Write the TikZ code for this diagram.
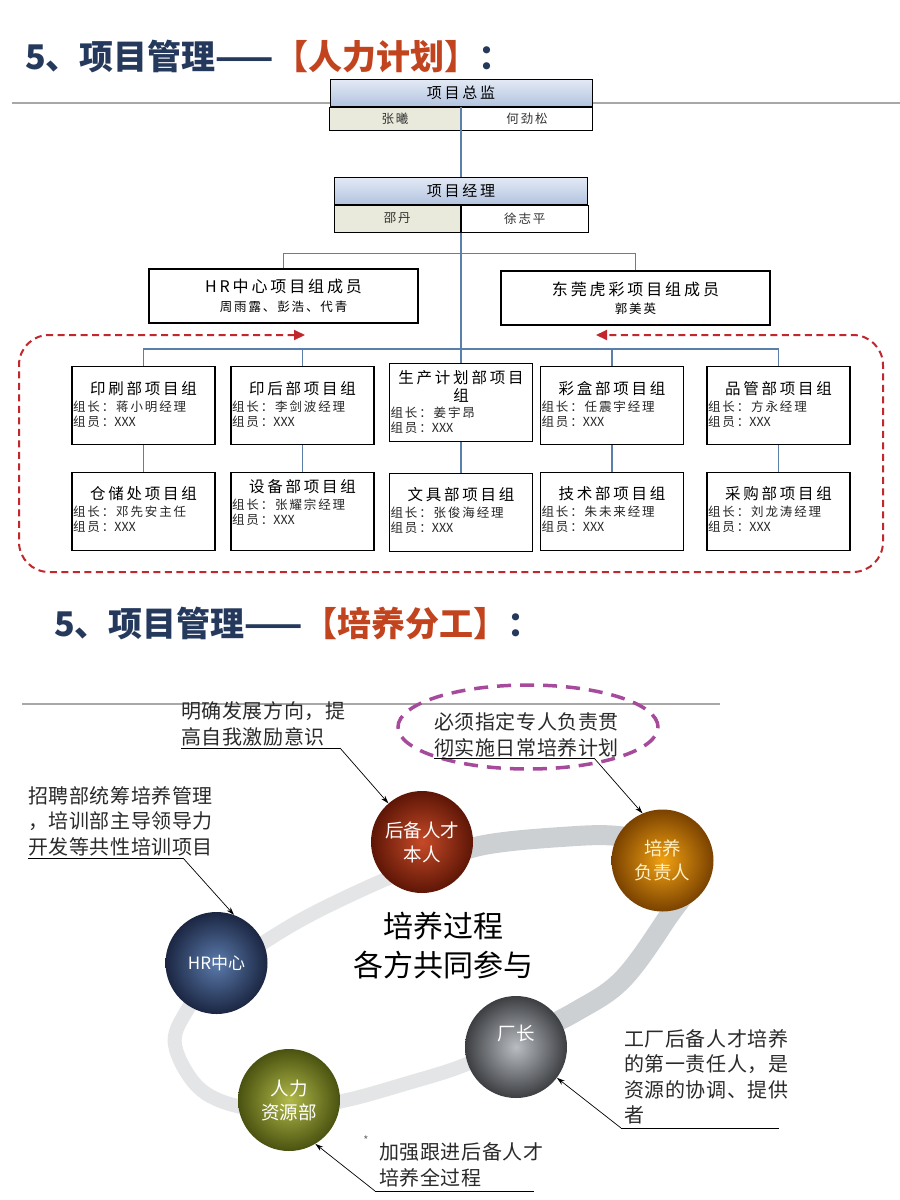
\documentclass[tikz,border=0pt]{standalone}
\usepackage{fontspec}
\setmainfont{Noto Sans CJK SC}
\newfontfamily\cjkT[LetterSpace=18]{Noto Sans CJK SC}
\newfontfamily\cjkL[LetterSpace=15]{Noto Sans CJK SC}
\newfontfamily\cjkN[LetterSpace=3]{Noto Sans CJK SC}
\usetikzlibrary{arrows.meta,calc}
\definecolor{navy}{HTML}{24395C}
\definecolor{ttlred}{HTML}{C1441E}
\definecolor{connblue}{HTML}{5A7FA8}
\definecolor{hdrtop}{HTML}{E4EAF5}
\definecolor{hdrbot}{HTML}{B3C4E0}
\definecolor{cellbeige}{HTML}{E9EADB}
\definecolor{dred}{HTML}{C1272D}
\definecolor{mag}{HTML}{A64A9C}
\definecolor{gline}{HTML}{A8A8A8}
\definecolor{ringlight}{HTML}{E4E5E6}
\definecolor{ringdark}{HTML}{CDD0D3}
\definecolor{notec}{HTML}{2A2A2A}
\definecolor{hbin}{HTML}{C64A28}
\definecolor{hbout}{HTML}{5E1606}
\definecolor{pfin}{HTML}{F2A112}
\definecolor{pfout}{HTML}{7A4200}
\definecolor{pftext}{HTML}{FFF1C6}
\definecolor{hrin}{HTML}{5B7BAC}
\definecolor{hrout}{HTML}{1B2642}
\definecolor{czin}{HTML}{B9BDC1}
\definecolor{czout}{HTML}{3C3E42}
\definecolor{rlin}{HTML}{B2BA4A}
\definecolor{rlout}{HTML}{4A5210}
\tikzset{
  ttl/.style={anchor=west, inner sep=0, font=\fontsize{34}{40}\selectfont\bfseries},
  hdr/.style={draw=black, line width=1pt, top color=hdrtop, bottom color=hdrbot, inner sep=0, font=\cjkT\fontsize{15}{16}\selectfont},
  cellL/.style={draw=black, line width=1pt, fill=cellbeige, inner sep=0, font=\cjkL\fontsize{12.5}{14}\selectfont, text=black!80},
  cellR/.style={draw=black, line width=1pt, fill=white, inner sep=0, font=\cjkL\fontsize{12.5}{14}\selectfont, text=black!80},
  conn/.style={draw=connblue, line width=1.3pt},
  mbox/.style={draw=black, line width=1.2pt, fill=white, inner sep=0, minimum width=269pt, minimum height=54pt, align=center, font=\fontsize{16}{18.5}\selectfont},
  grp/.style={draw=black, line width=1.2pt, fill=white, inner sep=0, minimum width=143pt, minimum height=78pt},
  gt/.style={inner sep=0, align=center, font=\cjkT\fontsize{15.5}{18}\selectfont},
  gl/.style={inner sep=0, anchor=west, text=black!85, font=\cjkL\fontsize{12.5}{14}\selectfont},
  reddash/.style={draw=dred, line width=2pt, dash pattern=on 7pt off 4.5pt, rounded corners=30pt},
  magdash/.style={draw=mag, line width=3.5pt, dash pattern=on 14pt off 9pt},
  grayrule/.style={draw=gline, line width=2pt},
  ball/.style={circle, minimum size=102pt, inner sep=0, align=center, text=white, font=\fontsize{18.5}{24}\selectfont},
  note/.style={anchor=west, inner sep=0, align=left, text=notec, font=\cjkN\fontsize{20}{25.5}\selectfont},
  uline/.style={draw=black, line width=0.8pt},
  lead/.style={draw=black, line width=0.7pt, -{Stealth[length=8pt,width=5pt]}},
}
\newcommand{\grpbox}[6]{%
  \node[grp, anchor=north] (#1) at (#2,#3) {};
  \node[gt] at ($(#1.north)+(0,#4)$) {#5};
  \node[gl] at ($(#1.north west)+(1.5,#4+18)$) {组长：#6};
  \node[gl] at ($(#1.north west)+(1.5,#4+33)$) {组员：{\rmfamily XXX}};
}
\begin{document}
\begin{tikzpicture}[x=1pt,y=-1pt]
\useasboundingbox (0,0) rectangle (900,1200);
\fill[white] (0,0) rectangle (900,1200);

% ---------- Part 1 ----------
\node[ttl] (t1) at (25,57) {\color{navy}5、项目管理——\color{ttlred}【人力计划】\color{navy}：};
\draw[grayrule] (12,103) -- (900,103);

% top boxes
\node[hdr, minimum width=262pt, minimum height=27pt] (zjh) at (461,92.5) {项目总监};
\node[cellL, minimum width=131pt, minimum height=23pt, anchor=north east] (zj1) at (zjh.south) {张曦};
\node[cellR, minimum width=131pt, minimum height=23pt, anchor=north west] (zj2) at (zjh.south) {何劲松};

\node[hdr, minimum width=253pt, minimum height=27pt] (jlh) at (461,190.5) {项目经理};
\node[cellL, minimum width=126.5pt, minimum height=27pt, anchor=north east] (jl1) at (jlh.south) {邵丹};
\node[cellR, minimum width=126.5pt, minimum height=27pt, anchor=north west] (jl2) at (jlh.south) {徐志平};

\node[mbox] (hrb) at (283.5,296) {{\cjkT HR中心项目组成员}\\{\cjkL\fontsize{12.5}{15}\selectfont 周雨露、彭浩、代青}};
\node[mbox] (dgb) at (635.5,298) {{\cjkT 东莞虎彩项目组成员}\\{\cjkL\fontsize{12.5}{15}\selectfont 郭美英}};

% group boxes
\grpbox{g1}{143.5}{366}{23}{印刷部项目组}{蒋小明经理}
\grpbox{g2}{302.5}{366}{23}{印后部项目组}{李剑波经理}
\node[grp, anchor=north] (g3) at (461,363) {};
\node[gt] at ($(g3.north)+(0,23)$) {生产计划部项目\\组};
\node[gl] at ($(g3.north west)+(1.5,50)$) {组长：姜宇昂};
\node[gl] at ($(g3.north west)+(1.5,65)$) {组员：{\rmfamily XXX}};
\grpbox{g4}{612}{366}{23}{彩盒部项目组}{任震宇经理}
\grpbox{g5}{778.5}{366}{23}{品管部项目组}{方永经理}

\grpbox{h1}{143.5}{472}{22}{仓储处项目组}{邓先安主任}
\grpbox{h2}{302.5}{472}{15}{设备部项目组}{张耀宗经理}
\grpbox{h3}{461}{473}{22}{文具部项目组}{张俊海经理}
\grpbox{h4}{612}{472}{22}{技术部项目组}{朱未来经理}
\grpbox{h5}{778.5}{472}{22}{采购部项目组}{刘龙涛经理}

% connectors
\coordinate (gbar) at (461,349);
\draw[conn] (zjh.south) -- (jlh.north);
\draw[conn] (jl1.south east) -- (g3.north);
\draw[conn] (hrb.north) -- ++(0,-15) -| (dgb.north);
\draw[conn] (g1.north) |- (gbar) -| (g5.north);
\draw[conn] (g2.north) -- (g2.north |- gbar);
\draw[conn] (g4.north) -- (g4.north |- gbar);
\foreach \i in {1,...,5}{\draw[conn] (g\i) -- (h\i);}

% red dashed loop
\coordinate (ra) at (305,335);
\coordinate (rb) at (596,335);
\draw[reddash, {Triangle[length=11pt,width=10pt]}-{Triangle[length=11pt,width=10pt]}]
  (ra) -- (19,335) -- (19,572) -- (883,572) -- (883,335) -- (rb);

% ---------- Part 2 ----------
\node[ttl] (t2) at (54,623) {\color{navy}5、项目管理——\color{ttlred}【培养分工】\color{navy}：};
\draw[grayrule] (22,704) -- (720,704);

% ring (lighter, thinner on the left; darker, wider on the right)
\draw[draw=ringlight, line width=14pt] plot[smooth cycle, tension=0.6] coordinates {
 (690,878) (666,920) (622,980) (575,1012) (520,1040) (462,1066) (408,1083)
 (347,1100) (289,1110) (237,1106) (198,1087) (175,1045) (186,1012) (215,976)
 (266,941) (312,914) (377,883) (430,862) (484,845) (561,837) (618,836) (662,848)};
\draw[draw=ringdark, line width=20pt] plot[smooth, tension=0.6] coordinates {
 (430,862) (484,845) (561,837) (618,836) (662,848) (690,878) (666,920)
 (622,980) (575,1012) (520,1040)};

\node[font=\fontsize{30}{39}\selectfont, align=center, inner sep=0] (ctr) at (443,946) {培养过程\\各方共同参与};

% balls
\node[ball, inner color=hbin, outer color=hbout] (hb) at (422,842) {后备人才\\本人};
\node[ball, inner color=pfin, outer color=pfout, text=pftext] (pf) at (662.5,860.5) {培养\\负责人};
\node[ball, inner color=hrin, outer color=hrout, font=\fontsize{17}{20}\selectfont] (hr) at (216.5,963) {HR中心};
\node[ball, inner color=czin, outer color=czout] (cz) at (516,1047) {};
\node[inner sep=0, text=white, font=\fontsize{18.5}{22}\selectfont] (czt) at (516,1033) {厂长};
\node[ball, inner color=rlin, outer color=rlout] (rl) at (289,1100) {人力\\资源部};

% magenta ellipse
\draw[magdash] (528,727) ellipse [x radius=130pt, y radius=42pt];

% notes
\node[note] (n1) at (181,724) {明确发展方向，提\\高自我激励意识};
\coordinate (u1a) at (181,748); \coordinate (u1b) at (340,748);
\draw[uline] (u1a) -- (u1b);
\draw[lead] (u1b) -- (hb.131);

\node[note] (n2) at (434,735) {必须指定专人负责贯\\彻实施日常培养计划};
\coordinate (u2a) at (434,758); \coordinate (u2b) at (594,758);
\draw[uline] (u2a) -- (u2b);
\draw[lead] (u2b) -- (pf.113);

\node[note] (n3) at (28,821) {招聘部统筹培养管理\\，培训部主导领导力\\开发等共性培训项目};
\coordinate (u3a) at (28,858); \coordinate (u3b) at (183,858);
\draw[uline] (u3a) -- (u3b);
\draw[lead] (u3b) -- (hr.70);

\node[note] (n4) at (624,1077) {工厂后备人才培养\\的第一责任人，是\\资源的协调、提供\\者};
\coordinate (u4a) at (621,1128); \coordinate (u4b) at (779,1128);
\draw[uline] (u4a) -- (u4b);
\draw[lead] (u4a) -- (cz.-37);

\node[inner sep=0, text=black!60, font=\fontsize{11}{12}\selectfont] (star) at (366,1140) {*};
\node[note] (n5) at (379,1165) {加强跟进后备人才\\培养全过程};
\coordinate (u5a) at (375,1191); \coordinate (u5b) at (534,1191);
\draw[uline] (u5a) -- (u5b);
\draw[lead] (u5a) -- (rl.-59);
\end{tikzpicture}
\end{document}
